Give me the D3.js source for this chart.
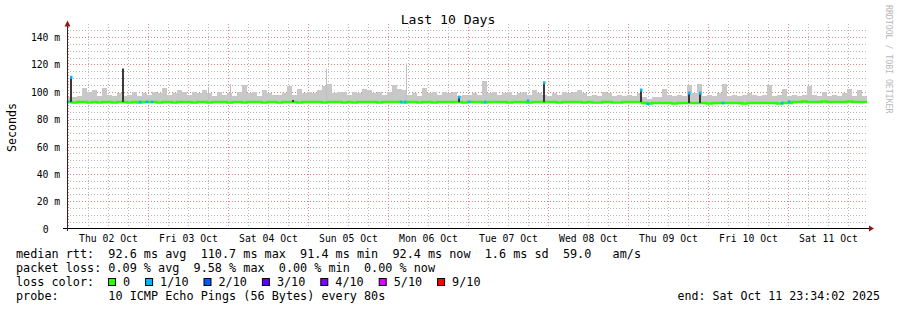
<!DOCTYPE html>
<html>
<head>
<meta charset="utf-8">
<script src="https://cdn.jsdelivr.net/npm/d3@7"></script>
<style>
    body { margin: 0; background: #fff; }
    svg text { font-family: "DejaVu Sans Mono", monospace; white-space: pre; }
</style>
</head>
<body>
<div id="chart"></div>
<script>
// one bin = 1.5 hours, 160 bins over the 10 days
const binHours = 1.5;

// top of the smoke (slowest ping) per bin, ms
const smokeTop = [
    96, 96, 97, 103, 100, 101, 97, 103, 98, 97, 99, 97, 98, 100, 97, 99, 98, 100, 99, 103,
    98, 99, 101, 100, 98, 100, 99, 101, 99, 97, 100, 98, 99, 97, 100, 105, 99, 100, 97, 101,
    99, 98, 98, 99, 104, 98, 102, 99, 100, 99, 101, 104, 106, 99, 100, 100, 98, 100, 99, 102,
    101, 99, 100, 98, 100, 105, 102, 101, 98, 99, 97, 103, 99, 100, 98, 100, 99, 100, 97, 98,
    98, 99, 98, 108, 99, 100, 98, 99, 100, 98, 99, 100, 98, 101, 99, 98, 97, 99, 98, 100,
    99, 100, 101, 99, 97, 98, 97, 100, 99, 97, 98, 97, 98, 97, 99, 96, 95, 96, 96, 102,
    98, 97, 98, 97, 105, 99, 106, 97, 98, 97, 99, 106, 97, 98, 97, 98, 99, 98, 97, 98,
    105, 97, 98, 102, 97, 98, 97, 98, 104, 98, 97, 100, 97, 98, 97, 99, 102, 97, 101, 97
];

// median rtt per bin, ms
const medianRtt = [
    92.6, 92.1, 92.6, 92.6, 92.1, 92.6, 92.1, 92.6, 92.6, 92.1, 92.6, 92.6, 92.1, 92.6, 92.1, 92.6, 92.6, 92.6, 92.1, 92.6,
    92.6, 92.1, 92.6, 92.6, 92.6, 92.1, 92.6, 92.6, 92.1, 92.6, 92.6, 92.6, 92.1, 92.6, 92.6, 92.1, 92.6, 92.6, 92.6, 92.1,
    92.6, 92.6, 92.1, 92.6, 92.6, 92.6, 92.1, 92.6, 92.6, 92.6, 92.6, 92.1, 92.6, 92.6, 92.6, 92.1, 92.6, 92.1, 92.6, 92.6,
    92.6, 92.6, 92.1, 92.6, 92.6, 92.6, 92.6, 92.1, 92.6, 92.6, 92.1, 92.6, 92.6, 92.1, 92.6, 92.6, 92.6, 92.6, 92.6, 92.1,
    92.6, 92.6, 92.6, 92.1, 92.6, 92.6, 92.6, 92.6, 92.1, 92.6, 92.6, 92.6, 92.1, 92.6, 92.6, 92.6, 92.6, 92.6, 92.1, 92.6,
    92.6, 92.6, 92.6, 92.1, 92.6, 92.1, 92.1, 92.6, 92.6, 92.1, 92.1, 92.6, 92.6, 92.6, 92.6, 91.8, 91.4, 91.8, 91.8, 91.8,
    91.8, 91.4, 91.8, 91.8, 91.8, 91.8, 91.8, 91.8, 91.4, 91.8, 91.8, 91.8, 91.8, 91.8, 91.8, 91.4, 91.8, 91.8, 91.8, 91.8,
    91.8, 91.8, 91.4, 91.8, 91.8, 92.6, 92.6, 92.9, 92.6, 92.6, 92.6, 92.9, 92.6, 92.6, 92.6, 92.6, 92.9, 92.6, 92.6, 92.6
];

// short single pings far above the smoke
const spikeHours = [42.3, 48.9, 77.7, 101.7];
const spikeTops = [103.7, 105.6, 117, 120.8];

// median jumps (dark verticals)
const jumpHours = [1.2, 16.8, 67.8, 117.6, 143.1, 172.2, 186.6, 189.9];
const jumpTops = [111, 117, 94, 96.5, 107, 101.7, 99.5, 99.5];
const jumpLoss = [1, 0, 0, 1, 1, 1, 1, 1];

// median points drawn in a loss colour
const lossHours = [0.3, 21.9, 24.0, 25.5, 100.2, 101.4, 120.6, 125.4, 138.3, 174.3, 196.8, 214.5, 216.6];
const lossValues = [92.6, 92.6, 92.6, 92.6, 92.6, 92.6, 92.6, 92.6, 93.5, 91.3, 91.8, 91.8, 92.8];
const lossCounts = [1, 1, 1, 1, 1, 1, 1, 1, 1, 1, 1, 1, 1];

const lossLabels = ["0", "1/10", "2/10", "3/10", "4/10", "5/10", "9/10"];
const lossColors = ["#26ff00", "#00b8ff", "#0059ff", "#5e00ff", "#7e00ff", "#dd00ff", "#ff0000"];

const yTicks = [0, 20, 40, 60, 80, 100, 120, 140];

const width = 897;
const height = 310;
const plot = { left: 67, right: 867, top: 23.5, bottom: 228.5 };

const start = new Date(Date.UTC(2025, 9, 1, 23, 34, 2));
const end = new Date(Date.UTC(2025, 9, 11, 23, 34, 2));
const hourToDate = (h) => new Date(start.getTime() + h * 3600e3);

const svg = d3.select("#chart").append("svg")
    .attr("width", width)
    .attr("height", height);

svg.append("rect").attr("width", width).attr("height", height).attr("fill", "#fff");

const x = d3.scaleUtc().domain([start, end]).range([plot.left, plot.right]);
const y = d3.scaleLinear().domain([0, 150]).range([plot.bottom, plot.top]);
const px = (v) => Math.round(v) + 0.5;

// grid
const grid = svg.append("g").attr("shape-rendering", "crispEdges");
const minorY = d3.range(5, 150, 5).filter((v) => v % 20 !== 0);
grid.selectAll(".gy").data(minorY).enter().append("line")
    .attr("x1", plot.left).attr("x2", plot.right)
    .attr("y1", (d) => px(y(d))).attr("y2", (d) => px(y(d)))
    .attr("stroke", "#b6b6b6").attr("stroke-dasharray", "1,2");
const minorX = d3.utcHour.every(6).range(start, end).filter((d) => d.getUTCHours() !== 0);
grid.selectAll(".gx").data(minorX).enter().append("line")
    .attr("x1", (d) => px(x(d))).attr("x2", (d) => px(x(d)))
    .attr("y1", plot.top).attr("y2", plot.bottom)
    .attr("stroke", "#b6b6b6").attr("stroke-dasharray", "1,2");
grid.selectAll(".my").data(yTicks.slice(1)).enter().append("line")
    .attr("x1", plot.left).attr("x2", plot.right)
    .attr("y1", (d) => px(y(d))).attr("y2", (d) => px(y(d)))
    .attr("stroke", "#d98585").attr("stroke-dasharray", "1,2");
grid.selectAll(".mx").data(d3.utcDay.range(start, end)).enter().append("line")
    .attr("x1", (d) => px(x(d))).attr("x2", (d) => px(x(d)))
    .attr("y1", plot.top).attr("y2", plot.bottom)
    .attr("stroke", "#d98585").attr("stroke-dasharray", "1,2");

// smoke
svg.append("g").selectAll("rect").data(smokeTop).enter().append("rect")
    .attr("x", (d, i) => x(hourToDate(i * binHours)))
    .attr("width", (d, i) => x(hourToDate((i + 1) * binHours)) - x(hourToDate(i * binHours)))
    .attr("y", (d) => y(d))
    .attr("height", (d, i) => y(medianRtt[i]) - y(d))
    .attr("fill", "#c8c8c8")
    .attr("shape-rendering", "crispEdges");

svg.append("g").selectAll("line").data(spikeHours).enter().append("line")
    .attr("x1", (d) => px(x(hourToDate(d)))).attr("x2", (d) => px(x(hourToDate(d))))
    .attr("y1", (d, i) => y(spikeTops[i]))
    .attr("y2", (d) => y(medianRtt[Math.floor(d / binHours)]))
    .attr("stroke", "#c0c0c0").attr("stroke-width", 1);

// median line
const medianPoints = medianRtt.map((v, i) => [hourToDate(i * binHours), v]);
medianPoints.push([end, medianRtt[medianRtt.length - 1]]);
svg.append("path")
    .datum(medianPoints)
    .attr("d", d3.line().x((d) => x(d[0])).y((d) => y(d[1])).curve(d3.curveStepAfter))
    .attr("fill", "none")
    .attr("stroke", lossColors[0])
    .attr("stroke-width", 2.4);

// jumps
const jumps = svg.append("g");
jumps.selectAll("line").data(jumpHours).enter().append("line")
    .attr("x1", (d) => x(hourToDate(d))).attr("x2", (d) => x(hourToDate(d)))
    .attr("y1", (d) => y(medianRtt[Math.floor(d / binHours)]))
    .attr("y2", (d, i) => y(jumpTops[i]))
    .attr("stroke", "#3a3a3a").attr("stroke-width", 2);
jumps.selectAll("rect").data(jumpHours.filter((d, i) => jumpLoss[i] > 0)).enter().append("rect")
    .attr("x", (d) => x(hourToDate(d)) - 1)
    .attr("y", (d) => y(jumpTops[jumpHours.indexOf(d)]) - 1)
    .attr("width", 2.5).attr("height", 3)
    .attr("fill", (d) => lossColors[jumpLoss[jumpHours.indexOf(d)]]);

// loss marks on the median
svg.append("g").selectAll("rect").data(lossHours).enter().append("rect")
    .attr("x", (d) => x(hourToDate(d)) - 1.2)
    .attr("y", (d, i) => y(lossValues[i]) - 1.3)
    .attr("width", 2.5).attr("height", 2.6)
    .attr("fill", (d, i) => lossColors[lossCounts[i]]);

// axes
const axis = svg.append("g");
axis.append("line").attr("x1", 63).attr("x2", 870).attr("y1", 228.5).attr("y2", 228.5).attr("stroke", "#000");
axis.append("line").attr("x1", 67.5).attr("x2", 67.5).attr("y1", 24).attr("y2", 231).attr("stroke", "#3a2020");
axis.append("path").attr("d", "M64.5,26.5L67.5,20.5L70.5,26.5Z").attr("fill", "#8b1a1a");
axis.append("path").attr("d", "M869,225.5L874,228.5L869,231.5Z").attr("fill", "#8b1a1a");

const yLabels = svg.append("g").style("font-size", "9.75px").attr("fill", "#000");
yLabels.selectAll(".num").data(yTicks).enter().append("text")
    .attr("x", 48.5).attr("y", (d) => px(y(d)) + 3.5)
    .attr("text-anchor", "end")
    .text((d) => d);
yLabels.selectAll(".unit").data(yTicks.filter((d) => d > 0)).enter().append("text")
    .attr("x", 54.3).attr("y", (d) => px(y(d)) + 3.5)
    .text("m");

const dayLabels = d3.utcDay.range(start, end).map((d) => d3.utcHour.offset(d, 12));
svg.append("g").style("font-size", "9.75px").selectAll("text").data(dayLabels).enter().append("text")
    .attr("x", (d) => x(d)).attr("y", 242)
    .attr("text-anchor", "middle")
    .text(d3.utcFormat("%a %d %b"));

svg.append("text")
    .attr("x", 448).attr("y", 24)
    .attr("text-anchor", "middle")
    .style("font-size", "13.1px")
    .text("Last 10 Days");

svg.append("text")
    .attr("transform", "translate(15.5,127.5) rotate(-90)")
    .attr("text-anchor", "middle")
    .style("font-size", "11.65px")
    .text("Seconds");

svg.append("text")
    .attr("transform", "translate(885.5,5) rotate(90)")
    .style("font-size", "8.2px")
    .attr("fill", "#b8b8b8")
    .text("RRDTOOL / TOBI OETIKER");

// legend
const legend = svg.append("g").style("font-size", "11.8px");
const legendRows = [
    "median rtt:  92.6 ms avg  110.7 ms max  91.4 ms min  92.4 ms now  1.6 ms sd  59.0   am/s",
    "packet loss: 0.09 % avg  9.58 % max  0.00 % min  0.00 % now",
    "loss color:",
    "probe:       10 ICMP Echo Pings (56 Bytes) every 80s"
];
const rowY = [258, 272, 286, 299.5];
legendRows.forEach((t, r) => {
    legend.append("text").attr("x", 16).attr("y", rowY[r]).text(t);
});

let lx = 108;
lossLabels.forEach((label, i) => {
    legend.append("rect")
        .attr("x", lx + 0.5).attr("y", 278.5)
        .attr("width", 7).attr("height", 7)
        .attr("fill", lossColors[i]).attr("stroke", "#000");
    legend.append("text").attr("x", lx + 15).attr("y", rowY[2]).text(label);
    lx = lx + 15 + label.length * 7.1 + 15;
});

legend.append("text")
    .attr("x", 880).attr("y", rowY[3])
    .attr("text-anchor", "end")
    .style("font-size", "11.6px")
    .text("end: Sat Oct 11 23:34:02 2025");
</script>
</body>
</html>
